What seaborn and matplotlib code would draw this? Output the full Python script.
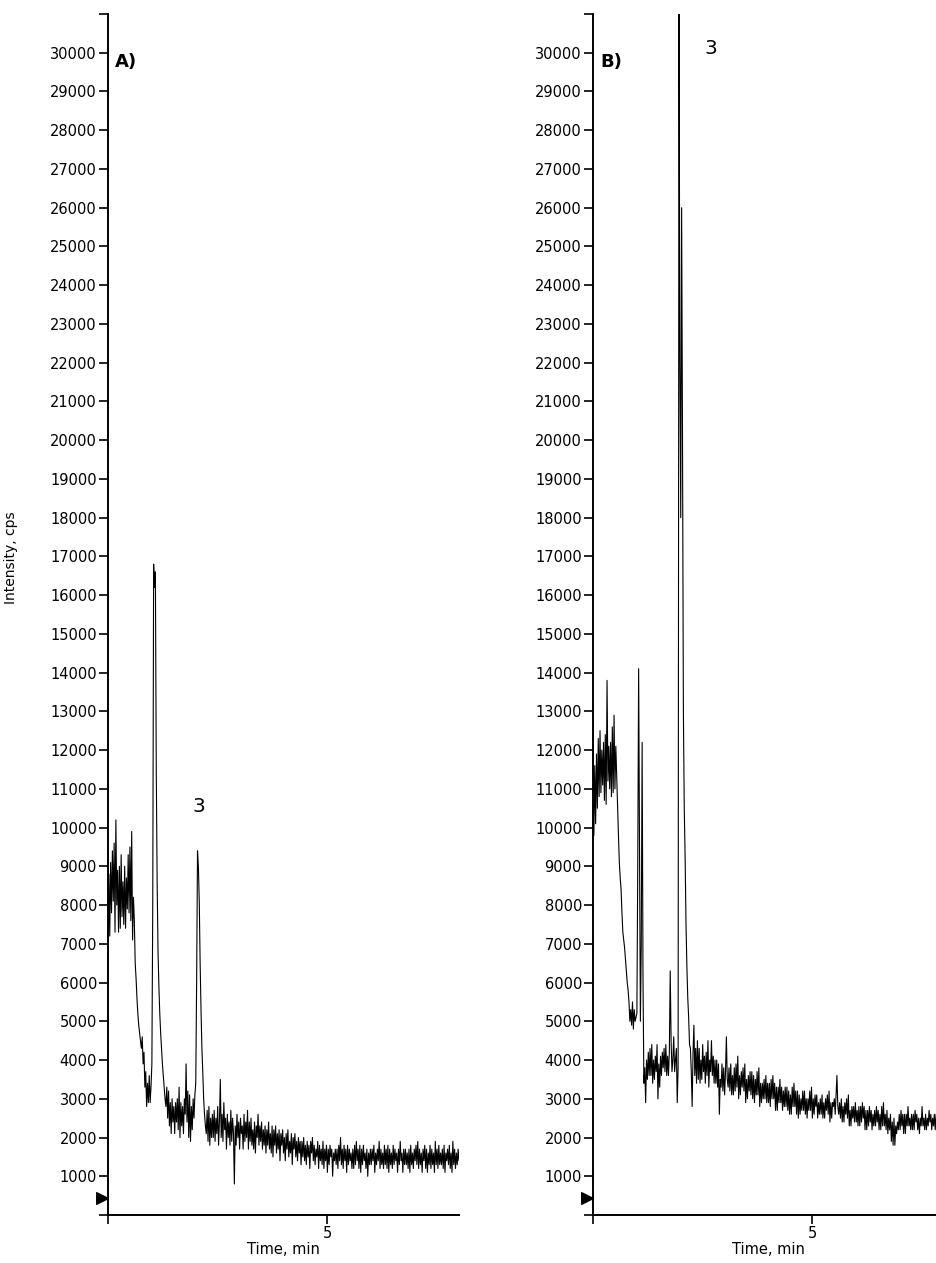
import numpy as np
import pandas as pd
import matplotlib
matplotlib.use("Agg")
import matplotlib.pyplot as plt
import seaborn as sns

sample_step_min = 0.02

intensity_a = [
    6100, 8800, 7200, 9100, 7800, 9400, 8100, 9600, 7300, 10200, 8000, 8900, 7300, 9000, 7400, 9300, 7700, 8600, 7500, 9000,
    7400, 8700, 7900, 9300, 7800, 9500, 7600, 9900, 7100, 8200, 7600, 6500, 6100, 5600, 5200, 4900, 4700, 4500, 4300, 4600,
    3900, 4200, 3300, 3700, 2800, 3400, 2900, 3600, 2900, 3300, 3900, 8000, 16800, 16200, 16600, 11500, 8600, 6800, 5900, 5200,
    4700, 4300, 3900, 3600, 3300, 3000, 2800, 3300, 2500, 3200, 2300, 2900, 2100, 3000, 2400, 2800, 2100, 2900, 2400, 3000,
    2200, 3300, 2000, 2900, 2300, 2800, 2100, 3000, 2600, 3900, 2400, 3200, 2000, 3100, 1900, 2800, 2200, 3000, 2500, 3100,
    3400, 6000, 9400, 9000, 8100, 6500, 5300, 4300, 3700, 3000, 2600, 2300, 2100, 2700, 1900, 2800, 1800, 2500, 2000, 2600,
    2000, 2700, 1900, 2500, 2100, 2800, 1800, 2400, 3500, 2000, 2600, 1900, 2900, 2200, 2500, 1700, 2600, 2000, 2400, 1800,
    2700, 1900, 2500, 2100, 800, 2300, 1800, 2600, 2000, 2400, 1700, 2500, 2100, 2300, 1700, 2600, 1900, 2400, 2000, 2700,
    1700, 2400, 1900, 2500, 1800, 2200, 1700, 2400, 1600, 2300, 2000, 2600, 1800, 2300, 1900, 2400, 1700, 2200, 1800, 2300,
    1600, 2200, 1800, 2400, 1700, 2100, 1600, 2300, 1500, 2200, 1800, 2300, 1600, 2100, 1700, 2200, 1400, 2100, 1800, 2200,
    1600, 2000, 1400, 2100, 1700, 2200, 1500, 1900, 1600, 2100, 1300, 2000, 1700, 2100, 1500, 1900, 1400, 2000, 1600, 1900,
    1300, 1900, 1500, 2000, 1400, 1800, 1300, 1900, 1500, 1800, 1200, 1900, 1600, 2000, 1400, 1800, 1300, 1700, 1500, 1900,
    1200, 1800, 1400, 1700, 1300, 1900, 1200, 1700, 1400, 1800, 1100, 1700, 1300, 1800, 1500, 1700, 1000, 1600, 1400, 1700,
    1300, 1700, 1200, 1800, 1400, 2000, 1300, 1700, 1200, 1800, 1400, 1700, 1100, 1800, 1300, 1700, 1400, 1600, 1200, 1700,
    1200, 1800, 1300, 1900, 1400, 1700, 1200, 1800, 1100, 1700, 1300, 1800, 1400, 1600, 1200, 1700, 1000, 1600, 1300, 1700,
    1300, 1700, 1400, 1800, 1100, 1600, 1300, 1700, 1400, 1900, 1200, 1700, 1300, 1600, 1200, 1800, 1300, 1700, 1200, 1800,
    1100, 1700, 1300, 1600, 1200, 1800, 1300, 1700, 1400, 1600, 1100, 1700, 1300, 1900, 1400, 1600, 1100, 1700, 1300, 1700,
    1300, 1600, 1200, 1700, 1100, 1800, 1300, 1600, 1200, 1700, 1400, 1800, 1300, 1900, 1200, 1700, 1300, 1600, 1100, 1700,
    1400, 1800, 1200, 1700, 1100, 1600, 1300, 1800, 1200, 1700, 1300, 1600, 1100, 1900, 1300, 1700, 1200, 1800, 1300, 1600,
    1300, 1700, 1200, 1800, 1100, 1600, 1400, 1700, 1300, 1800, 1200, 1600, 1100, 1900, 1300, 1700, 1200, 1600, 1300, 1700,
    1400,
]

intensity_b = [
    12800, 9800, 11600, 10100, 11900, 10500, 12300, 10800, 12500, 10900, 12000, 11100, 12200, 10700, 12400, 10600, 13800, 11200, 12100, 11000,
    12200, 10800, 12600, 10900, 12900, 11000, 12100, 11300, 10400, 9800, 9100, 8700, 8400, 7800, 7300, 7100, 6900, 6600, 6300, 6000,
    5800, 5500, 5000, 5300, 4900, 5500, 4800, 5300, 5000, 5100, 5200, 9000, 14100, 9500, 5000, 7000, 12200, 6000, 3400, 3800,
    2900, 4000, 3500, 4200, 3600, 4300, 3600, 4400, 3400, 4000, 3500, 4100, 3700, 4400, 3000, 3900, 3300, 4100, 3600, 4200,
    3800, 4300, 3700, 4400, 3600, 4100, 3600, 4200, 6300, 4500, 3700, 4000, 4600, 3700, 4000, 4300, 2900, 3800, 31500, 22000,
    18000, 26000, 20000, 13000, 10500, 9200, 7500, 6400, 5600, 5100, 4400, 4300, 3700, 2800, 4200, 4900, 3600, 4300, 3400, 4500,
    3500, 4300, 3400, 4000, 3500, 4400, 3700, 4100, 3400, 4200, 3600, 4500, 3300, 4000, 3700, 4500, 3600, 4100, 3400, 4000,
    3400, 4000, 3300, 3900, 2600, 3500, 3300, 3900, 3200, 3800, 3100, 3700, 4600, 3500, 3300, 3800, 3200, 3900, 3100, 3600,
    3100, 3800, 3200, 3900, 3300, 4100, 3000, 3600, 3100, 3700, 3300, 3800, 3200, 3900, 2900, 3500, 3000, 3600, 3200, 3700,
    3100, 3700, 3000, 3600, 2900, 3500, 3100, 3700, 3100, 3800, 2800, 3400, 2900, 3400, 3000, 3500, 3000, 3600, 2900, 3400,
    2900, 3400, 2800, 3500, 3000, 3600, 3000, 3400, 2700, 3300, 2700, 3300, 2900, 3500, 2900, 3300, 2700, 3200, 2800, 3300,
    2800, 3300, 2700, 3200, 2600, 3100, 2600, 3300, 2800, 3400, 2800, 3200, 2600, 3200, 2500, 3100, 2600, 3000, 2700, 3200,
    2700, 3200, 2600, 3000, 2500, 3000, 2700, 3200, 2700, 3300, 2500, 3000, 2600, 3100, 2800, 3100, 2500, 2900, 2600, 3000,
    2600, 3100, 2500, 2900, 2500, 3000, 2700, 3100, 2600, 3200, 2400, 2900, 2500, 2900, 2800, 3000, 2600, 3100, 3600, 2800,
    2600, 2900, 2500, 3000, 2400, 2800, 2400, 2900, 2600, 3000, 2500, 3100, 2300, 2700, 2300, 2800, 2500, 2800, 2400, 2900,
    2400, 2700, 2300, 2800, 2300, 2800, 2400, 2900, 2500, 2800, 2200, 2700, 2200, 2700, 2300, 2800, 2400, 2700, 2200, 2600,
    2300, 2700, 2300, 2800, 2400, 2700, 2200, 2600, 2200, 2800, 2300, 2900, 2300, 2600, 2200, 2700, 2100, 2500, 2200, 2600,
    1900, 2400, 1800, 2500, 1800, 2300, 2100, 2400, 2200, 2600, 2200, 2700, 2300, 2600, 2100, 2600, 2100, 2600, 2300, 2800,
    2300, 2500, 2200, 2600, 2200, 2600, 2200, 2700, 2400, 2600, 2200, 2500, 2100, 2500, 2300, 2800, 2300, 2500, 2200, 2600,
    2200, 2500, 2300, 2700, 2400, 2600, 2200, 2500, 2300, 2600, 2200, 2600, 2200, 2500, 2300, 2500, 2400, 2600, 2300, 2600,
    2400,
]

panel_labels = ["A)", "B)"]
# peak "3" annotation (time, intensity) for each panel
peak3_label_pos = [(2.07, 10550), (2.68, 30100)]

y_ticks = list(range(0, 31001, 1000))
y_tick_labels = ["" if v in (0, 31000) else str(v) for v in y_ticks]
x_ticks = [0, 5]
x_tick_labels = ["", "5"]

# === Style ===
sns.set_style("ticks")
plt.rcParams["font.family"] = ["DejaVu Sans"]
plt.rcParams["text.color"] = "black"
plt.rcParams["axes.labelcolor"] = "black"

fig = plt.figure(figsize=(9.36, 12.63), dpi=100)
W, H = 936, 1263
axes = [
    fig.add_axes([108 / W, 48 / H, 351 / W, 1201 / H]),
    fig.add_axes([593 / W, 48 / H, 351 / W, 1201 / H]),
]

for ax, values, label, pk in zip(axes, [intensity_a, intensity_b],
                                 panel_labels, peak3_label_pos):
    df = pd.DataFrame({"time": np.arange(len(values)) * sample_step_min,
                       "intensity": values})
    sns.lineplot(data=df, x="time", y="intensity", ax=ax, color="black",
                 linewidth=0.8, estimator=None)

    ax.set_xlim(0, 8)
    ax.set_ylim(0, 31000)
    sns.despine(ax=ax)
    for s in ("left", "bottom"):
        ax.spines[s].set_linewidth(1.4)
        ax.spines[s].set_color("black")

    ax.set_yticks(y_ticks)
    ax.set_yticklabels(y_tick_labels, fontsize=10.5)
    ax.set_xticks(x_ticks)
    ax.set_xticklabels(x_tick_labels, fontsize=10.5)
    ax.tick_params(axis="both", direction="out", length=6.5, width=1.2,
                   pad=1.5, colors="black")

    ax.set_xlabel("Time, min", fontsize=10.5, labelpad=1)
    ax.set_ylabel("")

    ax.text(0.02, 0.96, label, transform=ax.transAxes, fontsize=13,
            fontweight="bold", ha="left", va="center")
    ax.text(pk[0], pk[1], "3", fontsize=14.5, ha="center", va="center")

    # injection marker on the intensity axis
    ax.scatter([-0.016], [450], marker=">", s=70, color="black",
               transform=ax.get_yaxis_transform(), clip_on=False, zorder=5)

axes[0].set_ylabel("Intensity, cps", fontsize=10)
axes[0].yaxis.set_label_coords(-0.256, 0.547)

fig.savefig("out.png", dpi=100)
